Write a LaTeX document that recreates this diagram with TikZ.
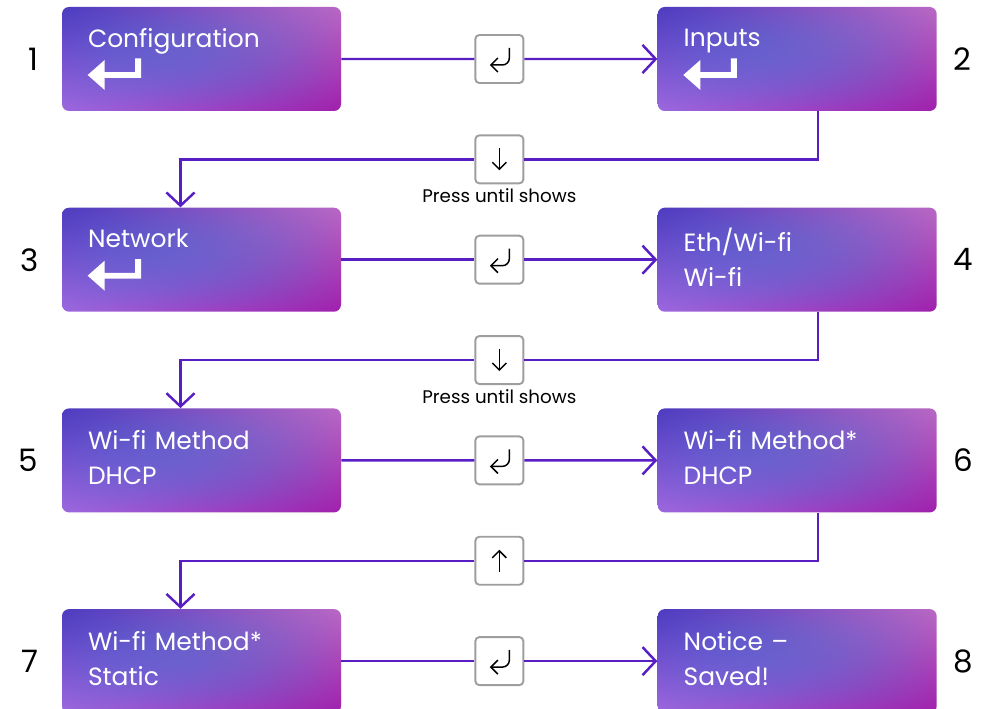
\documentclass[tikz,border=0pt]{standalone}
\usepackage{fontspec}
\setmainfont{Poppins}[Ligatures=NoCommon]
\usepackage{xcolor}
\usetikzlibrary{arrows.meta,positioning,calc}

\definecolor{flowc}{RGB}{88,30,196}
\definecolor{keyc}{RGB}{158,158,158}

% screen fill: four corner colours plus a bluer centre
\pgfdeclarefunctionalshading{scrshade}{\pgfpointorigin}{\pgfpoint{100bp}{100bp}}{}{
  25 sub 50 div exch 25 sub 50 div
  2 copy dup 1 exch sub mul exch dup 1 exch sub mul mul
  0 index -2.016 mul 2 index 4 index mul 0.409 mul add 2 index 0.015 mul add 3 index -0.314 mul add 0.612 add 4 1 roll
  0 index 1.2 mul 2 index 4 index mul 0.456 mul add 2 index -0.283 mul add 3 index -0.173 mul add 0.408 add 4 1 roll
  0 index 0.528 mul 2 index 4 index mul 0.212 mul add 2 index -0.196 mul add 3 index -0.118 mul add 0.871 add 4 1 roll
  pop pop pop
}

\begin{document}
\begin{tikzpicture}[
    scr/.style={rounded corners=0.14cm, shade, shading=scrshade, text=white, align=left,
                text width=4.54cm, inner xsep=0.52cm, inner ysep=0pt,
                minimum width=5.58cm, minimum height=2.08cm,
                font=\fontsize{14.2}{19.8}\selectfont,
                execute at end node={\rule[-0.11cm]{0pt}{0.1pt}}},
    num/.style={inner sep=0pt, font=\fontsize{17.6}{20}\selectfont},
    key/.style={draw=keyc, line width=1.1pt, rounded corners=0.08cm, fill=white,
                minimum size=0.96cm, inner sep=0pt},
    flow/.style={draw=flowc, line width=1.4pt},
    lbl/.style={font=\fontsize{10.4}{12}\selectfont, inner sep=1pt},
    sym/.style={line width=0.85pt, -{Straight Barb[length=4pt,width=8pt]}},
    >={Straight Barb[length=7.5pt,width=16pt]},
    enter/.pic={\fill[white] (0,0) -- (0.34,0.3) -- (0.34,0.056) -- (0.95,0.056)
                -- (0.95,0.33) -- (1.07,0.33) -- (1.07,-0.056) -- (0.34,-0.056)
                -- (0.34,-0.3) -- cycle;},
    retsym/.pic={\draw[sym] (0.2,0.22) -- (0.2,0.02)
                 arc[start angle=0, end angle=-90, radius=0.14] -- (-0.19,-0.12);},
    dnsym/.pic={\draw[sym] (0,0.22) -- (0,-0.22);},
    upsym/.pic={\draw[sym] (0,-0.22) -- (0,0.22);},
    ]
\useasboundingbox (0,0) rectangle (19.72,-14.18);

% screens
\node[scr] (conf) at (4.03,-1.18) {Configuration\\[0.05cm]\mbox{}};
\node[scr, right=6.32cm of conf] (inp) {Inputs\\[0.05cm]\mbox{}};
\node[scr, below=1.92cm of conf] (net) {Network\\[0.05cm]\mbox{}};
\node[scr, right=6.32cm of net] (eth) {Eth/Wi-fi\\Wi-fi};
\node[scr, below=1.92cm of net] (meth) {Wi-fi Method\\DHCP};
\node[scr, right=6.32cm of meth] (meths) {Wi-fi Method*\\DHCP};
\node[scr, below=1.92cm of meth] (stat) {Wi-fi Method*\\Static};
\node[scr, right=6.32cm of stat] (save) {Notice –\\Saved!};

\pic at ([xshift=0.52cm,yshift=-0.32cm]conf.west) {enter};
\pic at ([xshift=0.52cm,yshift=-0.32cm]inp.west) {enter};
\pic at ([xshift=0.52cm,yshift=-0.32cm]net.west) {enter};

% step numbers
\node[num, left=0.46cm of conf] (n1) {1};
\node[num, right=0.32cm of inp] (n2) {2};
\node[num, left=0.46cm of net] (n3) {3};
\node[num, right=0.32cm of eth] (n4) {4};
\node[num, left=0.46cm of meth] (n5) {5};
\node[num, right=0.32cm of meths] (n6) {6};
\node[num, left=0.46cm of stat] (n7) {7};
\node[num, right=0.32cm of save] (n8) {8};

% keys
\node[key] (kr1) at ($(conf.east)!0.5!(inp.west)$) {};
\node[key] (kr2) at ($(net.east)!0.5!(eth.west)$) {};
\node[key] (kr3) at ($(meth.east)!0.5!(meths.west)$) {};
\node[key] (kr4) at ($(stat.east)!0.5!(save.west)$) {};
\node[key] (kd1) at ($(kr1)!0.5!(kr2)$) {};
\node[key] (kd2) at ($(kr2)!0.5!(kr3)$) {};
\node[key] (ku) at ($(kr3)!0.5!(kr4)$) {};
\pic at (kr1) {retsym};
\pic at (kr2) {retsym};
\pic at (kr3) {retsym};
\pic at (kr4) {retsym};
\pic at (kd1) {dnsym};
\pic at (kd2) {dnsym};
\pic at (ku) {upsym};
\node[lbl, below=0.04cm of kd1] (p1) {Press until shows};
\node[lbl, below=0.04cm of kd2] (p2) {Press until shows};

% connectors
\draw[flow] (conf) -- (kr1);
\draw[flow,->] (kr1) -- (inp);
\draw[flow] ([xshift=0.42cm]inp.south) |- (kd1);
\draw[flow,->] (kd1) -| ([xshift=-0.42cm]net.north);
\draw[flow] (net) -- (kr2);
\draw[flow,->] (kr2) -- (eth);
\draw[flow] ([xshift=0.42cm]eth.south) |- (kd2);
\draw[flow,->] (kd2) -| ([xshift=-0.42cm]meth.north);
\draw[flow] (meth) -- (kr3);
\draw[flow,->] (kr3) -- (meths);
\draw[flow] ([xshift=0.42cm]meths.south) |- (ku);
\draw[flow,->] (ku) -| ([xshift=-0.42cm]stat.north);
\draw[flow] (stat) -- (kr4);
\draw[flow,->] (kr4) -- (save);
\end{tikzpicture}
\end{document}
